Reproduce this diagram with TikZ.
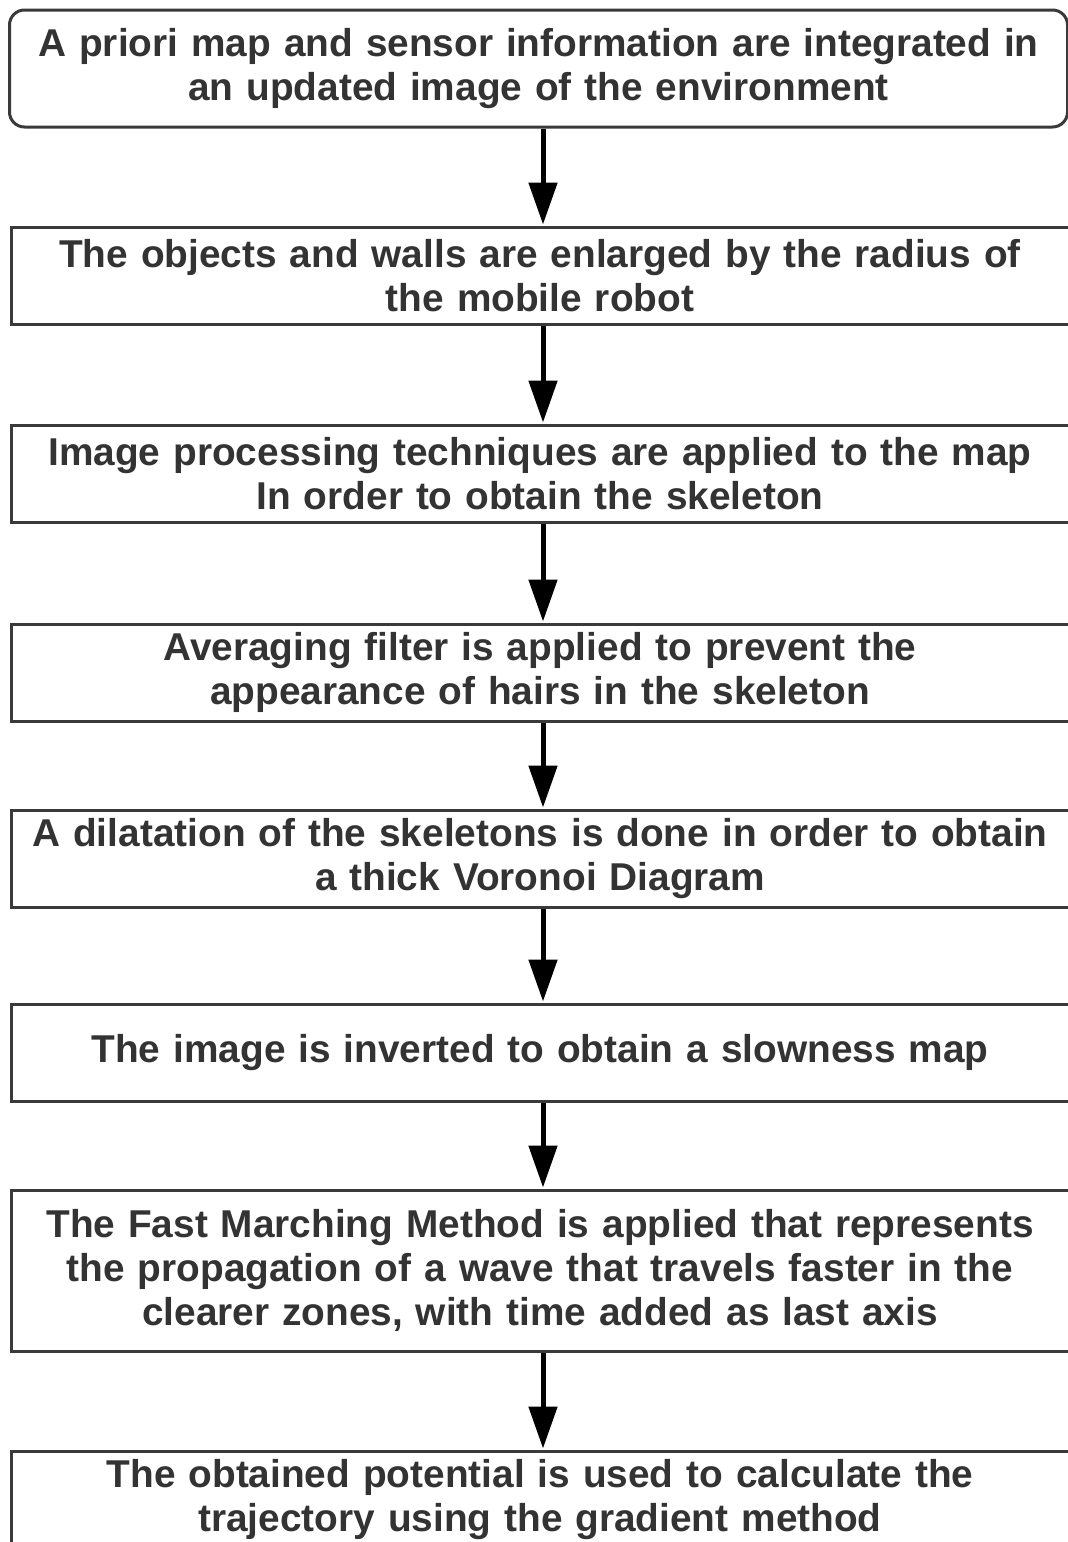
\documentclass[tikz,border=0pt]{standalone}
\usepackage{fontspec}
\setmainfont{Liberation Sans}
\usetikzlibrary{arrows.meta}
\definecolor{boxline}{HTML}{3A3A3A}
\definecolor{txt}{HTML}{333333}
\tikzset{
  stepbox/.style={draw=boxline, line width=1.5pt, fill=white, inner sep=0pt,
    minimum width=529pt, text width=527pt, align=center,
    font=\fontsize{19.4pt}{22pt}\selectfont\bfseries, text=txt},
  flowarrow/.style={line width=2.5pt, draw=black,
    -{Triangle[length=21pt,width=14pt]}, shorten >=0.5pt}
}
\begin{document}
\begin{tikzpicture}[x=0.5pt,y=-0.5pt]
\useasboundingbox (0,0) rectangle (1068,1542);
\node[stepbox, rounded corners=7.5pt, minimum height=58.5pt] (b1) at (538.5,68.5)
  {A priori map and sensor information are integrated in\\an updated image of the environment};
\node[stepbox, minimum height=48.5pt] (b2) at (540,275.5)
  {The objects and walls are enlarged by the radius of\\the mobile robot};
\node[stepbox, minimum height=48.5pt] (b3) at (540,473.5)
  {Image processing techniques are applied to the map\\In order to obtain the skeleton};
\node[stepbox, minimum height=48.5pt] (b4) at (540,672.5)
  {Averaging filter is applied to prevent the\\appearance of hairs in the skeleton};
\node[stepbox, minimum height=48.5pt] (b5) at (540,858.5)
  {A dilatation of the skeletons is done in order to obtain\\a thick Voronoi Diagram};
\node[stepbox, minimum height=48.5pt] (b6) at (540,1052.5)
  {The image is inverted to obtain a slowness map};
\node[stepbox, minimum height=80.5pt] (b7) at (540,1270.5)
  {The Fast Marching Method is applied that represents\\the propagation of a wave that travels faster in the\\clearer zones, with time added as last axis};
\node[stepbox, minimum height=49pt] (b8) at (540,1500)
  {The obtained potential is used to calculate the\\trajectory using the gradient method};
\draw[flowarrow] ([xshift=2.25pt]b1.south) -- ([xshift=1.5pt]b2.north);
\draw[flowarrow] ([xshift=1.5pt]b2.south) -- ([xshift=1.5pt]b3.north);
\draw[flowarrow] ([xshift=1.5pt]b3.south) -- ([xshift=1.5pt]b4.north);
\draw[flowarrow] ([xshift=1.5pt]b4.south) -- ([xshift=1.5pt]b5.north);
\draw[flowarrow] ([xshift=1.5pt]b5.south) -- ([xshift=1.5pt]b6.north);
\draw[flowarrow] ([xshift=1.5pt]b6.south) -- ([xshift=1.5pt]b7.north);
\draw[flowarrow] ([xshift=1.5pt]b7.south) -- ([xshift=1.5pt]b8.north);
\end{tikzpicture}
\end{document}
